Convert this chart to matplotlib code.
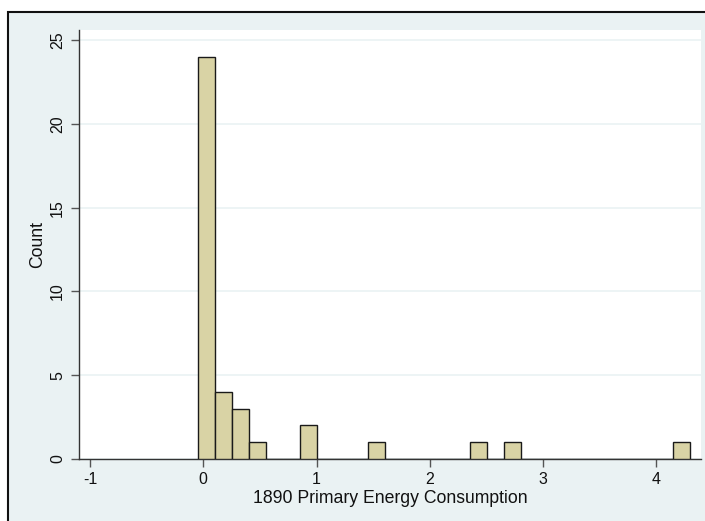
import matplotlib
matplotlib.use("Agg")
import matplotlib.pyplot as plt
from matplotlib.patches import Rectangle
import numpy as np

# Data: histogram bin counts (29 bins)
bin_start = -0.044
bin_width = 0.1497
counts = [24, 4, 3, 1, 0, 0, 2, 0, 0, 0, 1, 0, 0, 0, 0, 0, 1, 0, 1, 0,
          0, 0, 0, 0, 0, 0, 0, 0, 1]
x_ticks = [-1, 0, 1, 2, 3, 4]
y_ticks = [0, 5, 10, 15, 20, 25]
x_label = "1890 Primary Energy Consumption"
y_label = "Count"

W, H = 705, 521
fig = plt.figure(figsize=(W / 100, H / 100), dpi=100)
fig.patch.set_facecolor("white")

# outer graph region with border (cropped at right/bottom)
bg = Rectangle((8 / W, -0.2), 1.5, 0.2 + (H - 12) / H, transform=fig.transFigure,
               facecolor="#EAF2F3", edgecolor="#111111", linewidth=1.5, zorder=-5)
fig.patches.append(bg)

left, right, top, bottom = 79, 701, 30, 459
ax = fig.add_axes([left / W, (H - bottom) / H, (right - left) / W, (bottom - top) / H])
ax.set_zorder(2)
ax.set_facecolor("white")

edges = bin_start + bin_width * np.arange(len(counts))
ax.bar(edges, counts, width=bin_width, align="edge", color="#D9D3A5",
       edgecolor="#1a1a1a", linewidth=1.0, zorder=3)

ax.set_xlim(-1.097, 4.393)
ax.set_ylim(0, 25.6)
ax.set_xticks(x_ticks)
ax.set_xticklabels([str(v) for v in x_ticks])
ax.set_yticks(y_ticks)
ax.set_yticklabels([str(v) for v in y_ticks], rotation=90, va="center")

ax.yaxis.grid(True, color="#EAF2F3", linewidth=1.2, zorder=0)
ax.set_axisbelow(True)

for s in ["top", "right"]:
    ax.spines[s].set_visible(False)
for s in ["left", "bottom"]:
    ax.spines[s].set_color("#333333")
    ax.spines[s].set_linewidth(1.0)

font = "Liberation Sans"
ax.tick_params(axis="both", direction="out", length=6, width=1.0, color="#555555",
               labelsize=11.5, labelcolor="#111111")
for lab in ax.get_xticklabels() + ax.get_yticklabels():
    lab.set_fontfamily(font)
ax.tick_params(axis="x", pad=3.5)
ax.tick_params(axis="y", pad=4)

ax.set_xlabel(x_label, fontsize=12.7, family=font, color="#111111", labelpad=2)
ax.set_ylabel(y_label, fontsize=12.7, family=font, color="#111111", labelpad=3)

fig.savefig("out.png", dpi=100, facecolor=fig.get_facecolor())
